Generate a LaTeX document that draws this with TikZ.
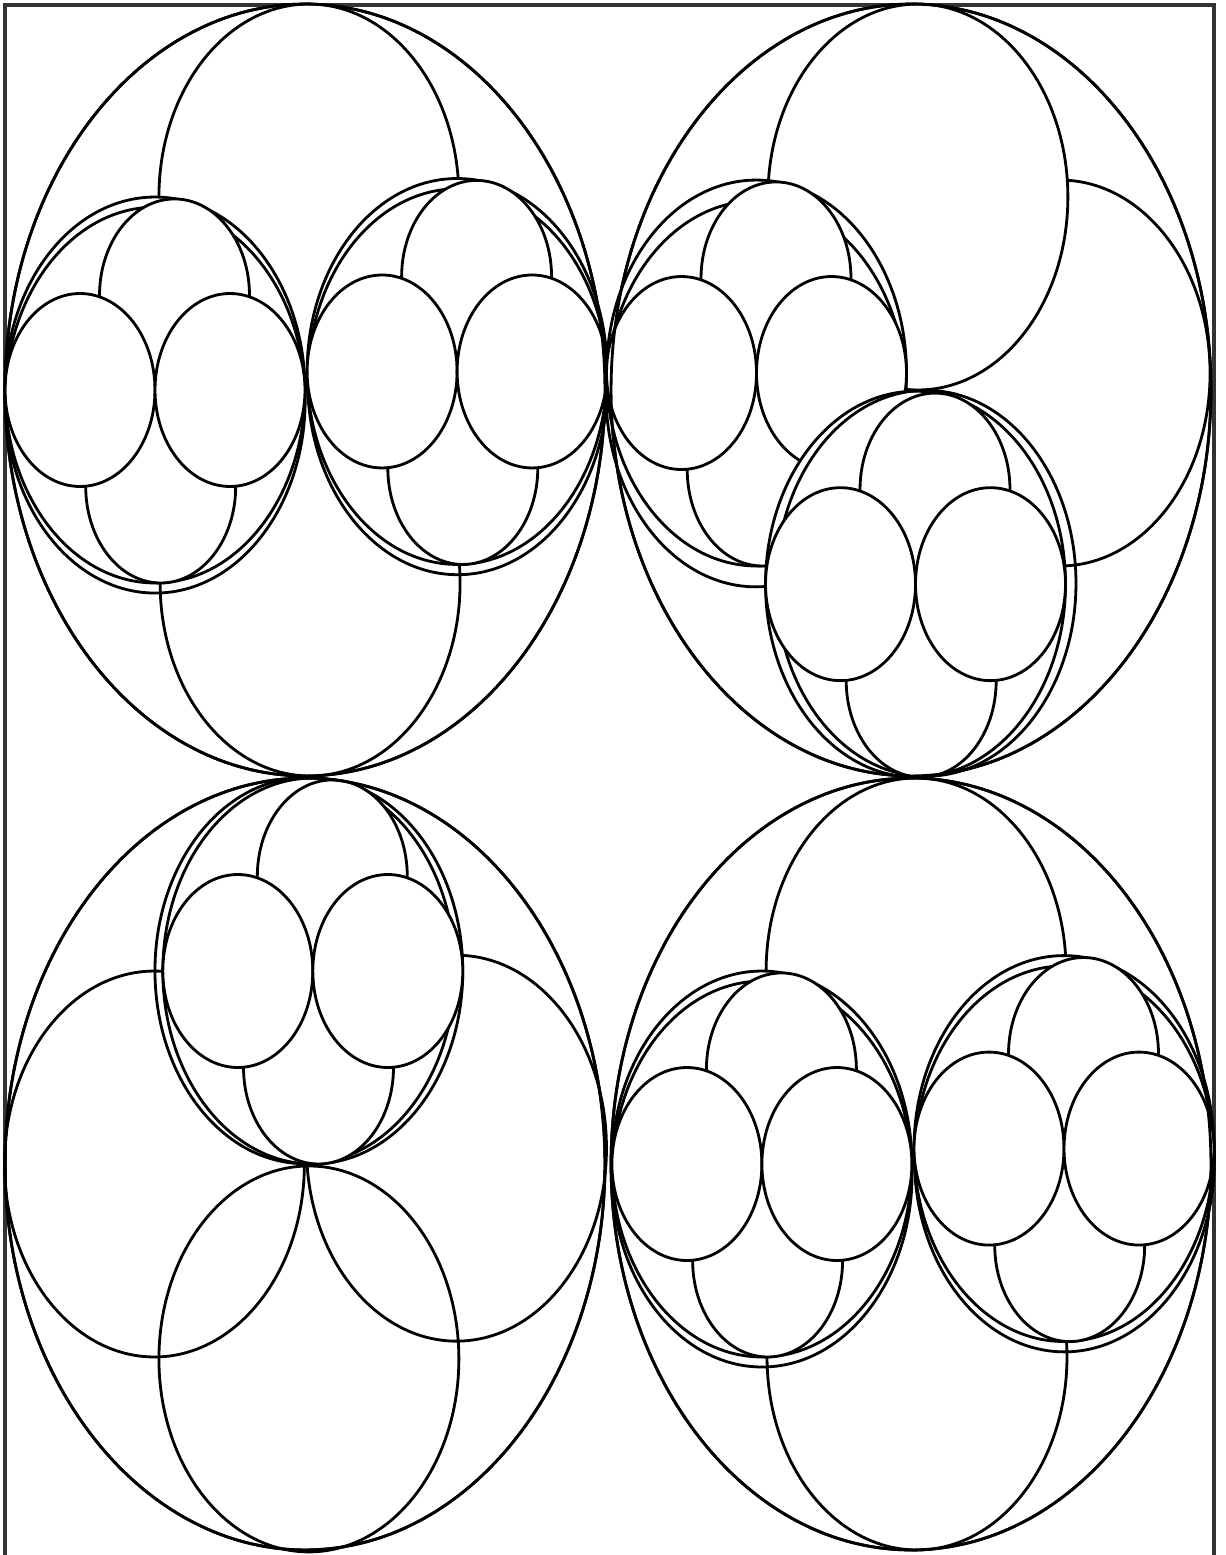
\documentclass[tikz,border=0pt]{standalone}
\tikzset{
  ln/.style={draw=black, line width=1.6pt},
  disc/.style={ln, fill=white},
  ring/.style={ln},
  frame/.style={draw=black!80, line width=2.2pt},
}
\newcommand\qx{0}
\newcommand\qy{0}
% #1 style, #2 u, #3 v (v up), #4 radius (big circle = 1)
\newcommand\Ring[4]{\path[#1] ({\qx+300*(#2)},{\qy-386*(#3)}) ellipse [x radius={(#4)*6cm}, y radius={(#4)*7.72cm}];}
% group of radius 1/2 at (#1,#2), second outline rotated by #3 degrees
\newcommand\Grp[3]{%
  \Ring{disc}{#1}{#2}{0.5}%
  \Ring{ring}{(#1)*cos(#3)-(#2)*sin(#3)}{(#1)*sin(#3)+(#2)*cos(#3)}{0.5}%
  \Ring{disc}{(#1)+0.065}{(#2)+0.245}{0.25}%
  \Ring{disc}{(#1)+0.019}{(#2)-0.25}{0.25}%
  \Ring{disc}{(#1)-0.25}{#2}{0.25}%
  \Ring{disc}{(#1)+0.25}{#2}{0.25}%
}
\begin{document}
\begin{tikzpicture}[x=0.02cm,y=-0.02cm]
\useasboundingbox (0,0) rectangle (1225,1555);
\fill[white] (0,0) rectangle (1225,1555);
% frame
\draw[frame] (5,1560) -- (5,5) -- (1214,5) -- (1214,1560);
% ---- top left
\renewcommand\qx{305}\renewcommand\qy{390}
\Ring{ring}{0}{0}{1}
\Ring{disc}{0.013}{0.5}{0.5}
\Ring{disc}{0.017}{-0.5}{0.5}
\Grp{-0.5}{0}{3}
\Grp{0.507}{0.048}{-3}
\Ring{ring}{0}{0}{1}
% ---- top right
\renewcommand\qx{911}\renewcommand\qy{390}
\Ring{ring}{0}{0}{1}
\Ring{disc}{0.497}{0.044}{0.5}
\Ring{disc}{0.023}{0.5}{0.5}
\Grp{-0.515}{0.044}{6}
\Grp{0.015}{-0.503}{4}
\Ring{ring}{0}{0}{1}
% ---- bottom left
\renewcommand\qx{305}\renewcommand\qy{1164}
\Ring{ring}{0}{0}{1}
\Ring{ring}{-0.502}{0}{0.5}
\Ring{ring}{0.505}{0.041}{0.5}
\Ring{ring}{0.013}{-0.505}{0.5}
\Grp{0.026}{0.5}{3}
\Ring{ring}{0}{0}{1}
% ---- bottom right
\renewcommand\qx{911}\renewcommand\qy{1164}
\Ring{ring}{0}{0}{1}
\Ring{disc}{0.017}{0.5}{0.5}
\Ring{disc}{0.02}{-0.5}{0.5}
\Grp{-0.497}{0}{3}
\Grp{0.51}{0.040}{-3}
\Ring{ring}{0}{0}{1}
\end{tikzpicture}
\end{document}
